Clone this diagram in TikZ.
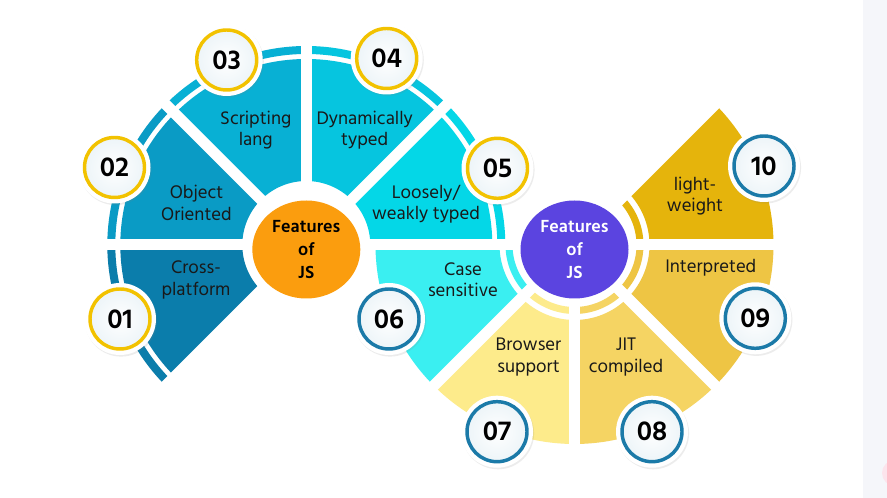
\documentclass[tikz,border=0pt]{standalone}
\usepackage{fontspec}
\setmainfont{Hind Madurai}
\usetikzlibrary{positioning, shapes.geometric, shadows}
\definecolor{mBlueA}{HTML}{0B7DAB}
\definecolor{mBlueB}{HTML}{0A9BC5}
\definecolor{mBlueC}{HTML}{08B0D4}
\definecolor{mBlueD}{HTML}{06C5DF}
\definecolor{mBlueE}{HTML}{04D7E7}
\definecolor{mCyan}{HTML}{3AEFF1}
\definecolor{mYellowA}{HTML}{FDEB8B}
\definecolor{mYellowB}{HTML}{F5D463}
\definecolor{mYellowC}{HTML}{EEC544}
\definecolor{mYellowD}{HTML}{E5B40C}
\definecolor{mOrange}{HTML}{FB9D0E}
\definecolor{mPurple}{HTML}{5B44E0}
\definecolor{mRingGold}{HTML}{F2C200}
\definecolor{mRingBlue}{HTML}{1B7AA8}
\definecolor{mPage}{HTML}{F5F6FA}
\definecolor{mPink}{HTML}{FCE4EC}

\begin{document}
\begin{tikzpicture}[x=0.75pt, y=0.75pt,
      gap/.style={white, line width=8.25pt},
      hub/.style={ellipse, minimum width=81pt, minimum height=73.5pt, inner sep=0pt,
        align=center, font=\fontsize{13.5}{17}\selectfont\bfseries},
      lbl/.style={align=center, inner sep=0pt, text=black!90,
        font=\fontsize{14}{16}\selectfont},
      badgebg/.style={circle, fill=white, minimum size=54pt, inner sep=0pt,
        drop shadow={opacity=0.15, shadow xshift=0.8pt, shadow yshift=-1.2pt}},
      badge/.style={circle, minimum size=45pt, inner sep=0pt, line width=2.6pt,
        inner color=white, outer color=mRingBlue!8,
        font=\fontsize{21}{21}\selectfont\bfseries}]
    \useasboundingbox (0,0) rectangle (887,498);
    \fill[white] (0,0) rectangle (887,498);
    \fill[mPage] (863,0) rectangle (887,498);
    \fill[mPink] (895,25) circle (13);
    \coordinate (L) at (306.3,253);
    \coordinate (R) at (574.5,253);
    % left wheel, ring outside
    \foreach \a/\col in {180/mBlueA, 135/mBlueB, 90/mBlueC, 45/mBlueD, 0/mBlueE} {
      \fill[\col] ([shift={(\a:64)}]L) arc[start angle=\a, delta angle=45, radius=64]
        -- ([shift={(\a+45:186)}]L) arc[start angle=\a+45, delta angle=-45, radius=186] -- cycle;
      \fill[\col] ([shift={(\a:191)}]L) arc[start angle=\a, delta angle=45, radius=191]
        -- ([shift={(\a+45:199)}]L) arc[start angle=\a+45, delta angle=-45, radius=199] -- cycle;
    }
    % right wheel, ring inside
    \foreach \a/\col in {180/mCyan, 225/mYellowA, 270/mYellowB, 315/mYellowC, 0/mYellowD} {
      \fill[\col] ([shift={(\a:75)}]R) arc[start angle=\a, delta angle=45, radius=75]
        -- ([shift={(\a+45:199)}]R) arc[start angle=\a+45, delta angle=-45, radius=199] -- cycle;
      \fill[\col] ([shift={(\a:62)}]R) arc[start angle=\a, delta angle=45, radius=62]
        -- ([shift={(\a+45:69)}]R) arc[start angle=\a+45, delta angle=-45, radius=69] -- cycle;
    }
    % white gaps
    \foreach \a in {0,45,...,225} \draw[gap] (L) -- ++(\a:205);
    \foreach \a in {180,225,...,405} \draw[gap] (R) -- ++(\a:205);
    % hubs
    \node[hub, fill=mOrange] (hubL) at (306.3,248.5) {Features\\of\\JS};
    \node[hub, fill=mPurple, text=white] (hubR) at (574.5,248.5) {Features\\of\\JS};
    % labels
    \node[lbl] (t01) at (196,218) {Cross-\\platform};
    \node[lbl] (t02) at (196.5,295) {Object\\Oriented};
    \node[lbl] (t03) at (255.8,368) {Scripting\\lang};
    \node[lbl] (t04) at (364.7,368) {Dynamically\\typed};
    \node[lbl] (t05) at (426,294) {Loosely/\\weakly typed};
    \node[lbl] (t06) at (463,218) {Case\\sensitive};
    \node[lbl] (t07) at (528.5,141) {Browser\\support};
    \node[lbl] (t08) at (626,141) {JIT\\compiled};
    \node[lbl] (t09) at (710.8,230) {Interpreted};
    \node[lbl] (t10) at (695,302) {light-\\weight};
    % badges
    \foreach \n/\x/\y/\col in {01/120/179/mRingGold, 02/114.5/330.5/mRingGold,
        03/226.7/438/mRingGold, 04/386.7/439.5/mRingGold, 05/497.5/329.7/mRingGold,
        06/389/179/mRingBlue, 07/497/66.3/mRingBlue, 08/652/66.3/mRingBlue,
        09/755.3/179.7/mRingBlue, 10/764/332/mRingBlue} {
      \node[badgebg] (s\n) at (\x,\y) {};
      \node[badge, draw=\col] (b\n) at (s\n) {\n};
    }
  \end{tikzpicture}
\end{document}
